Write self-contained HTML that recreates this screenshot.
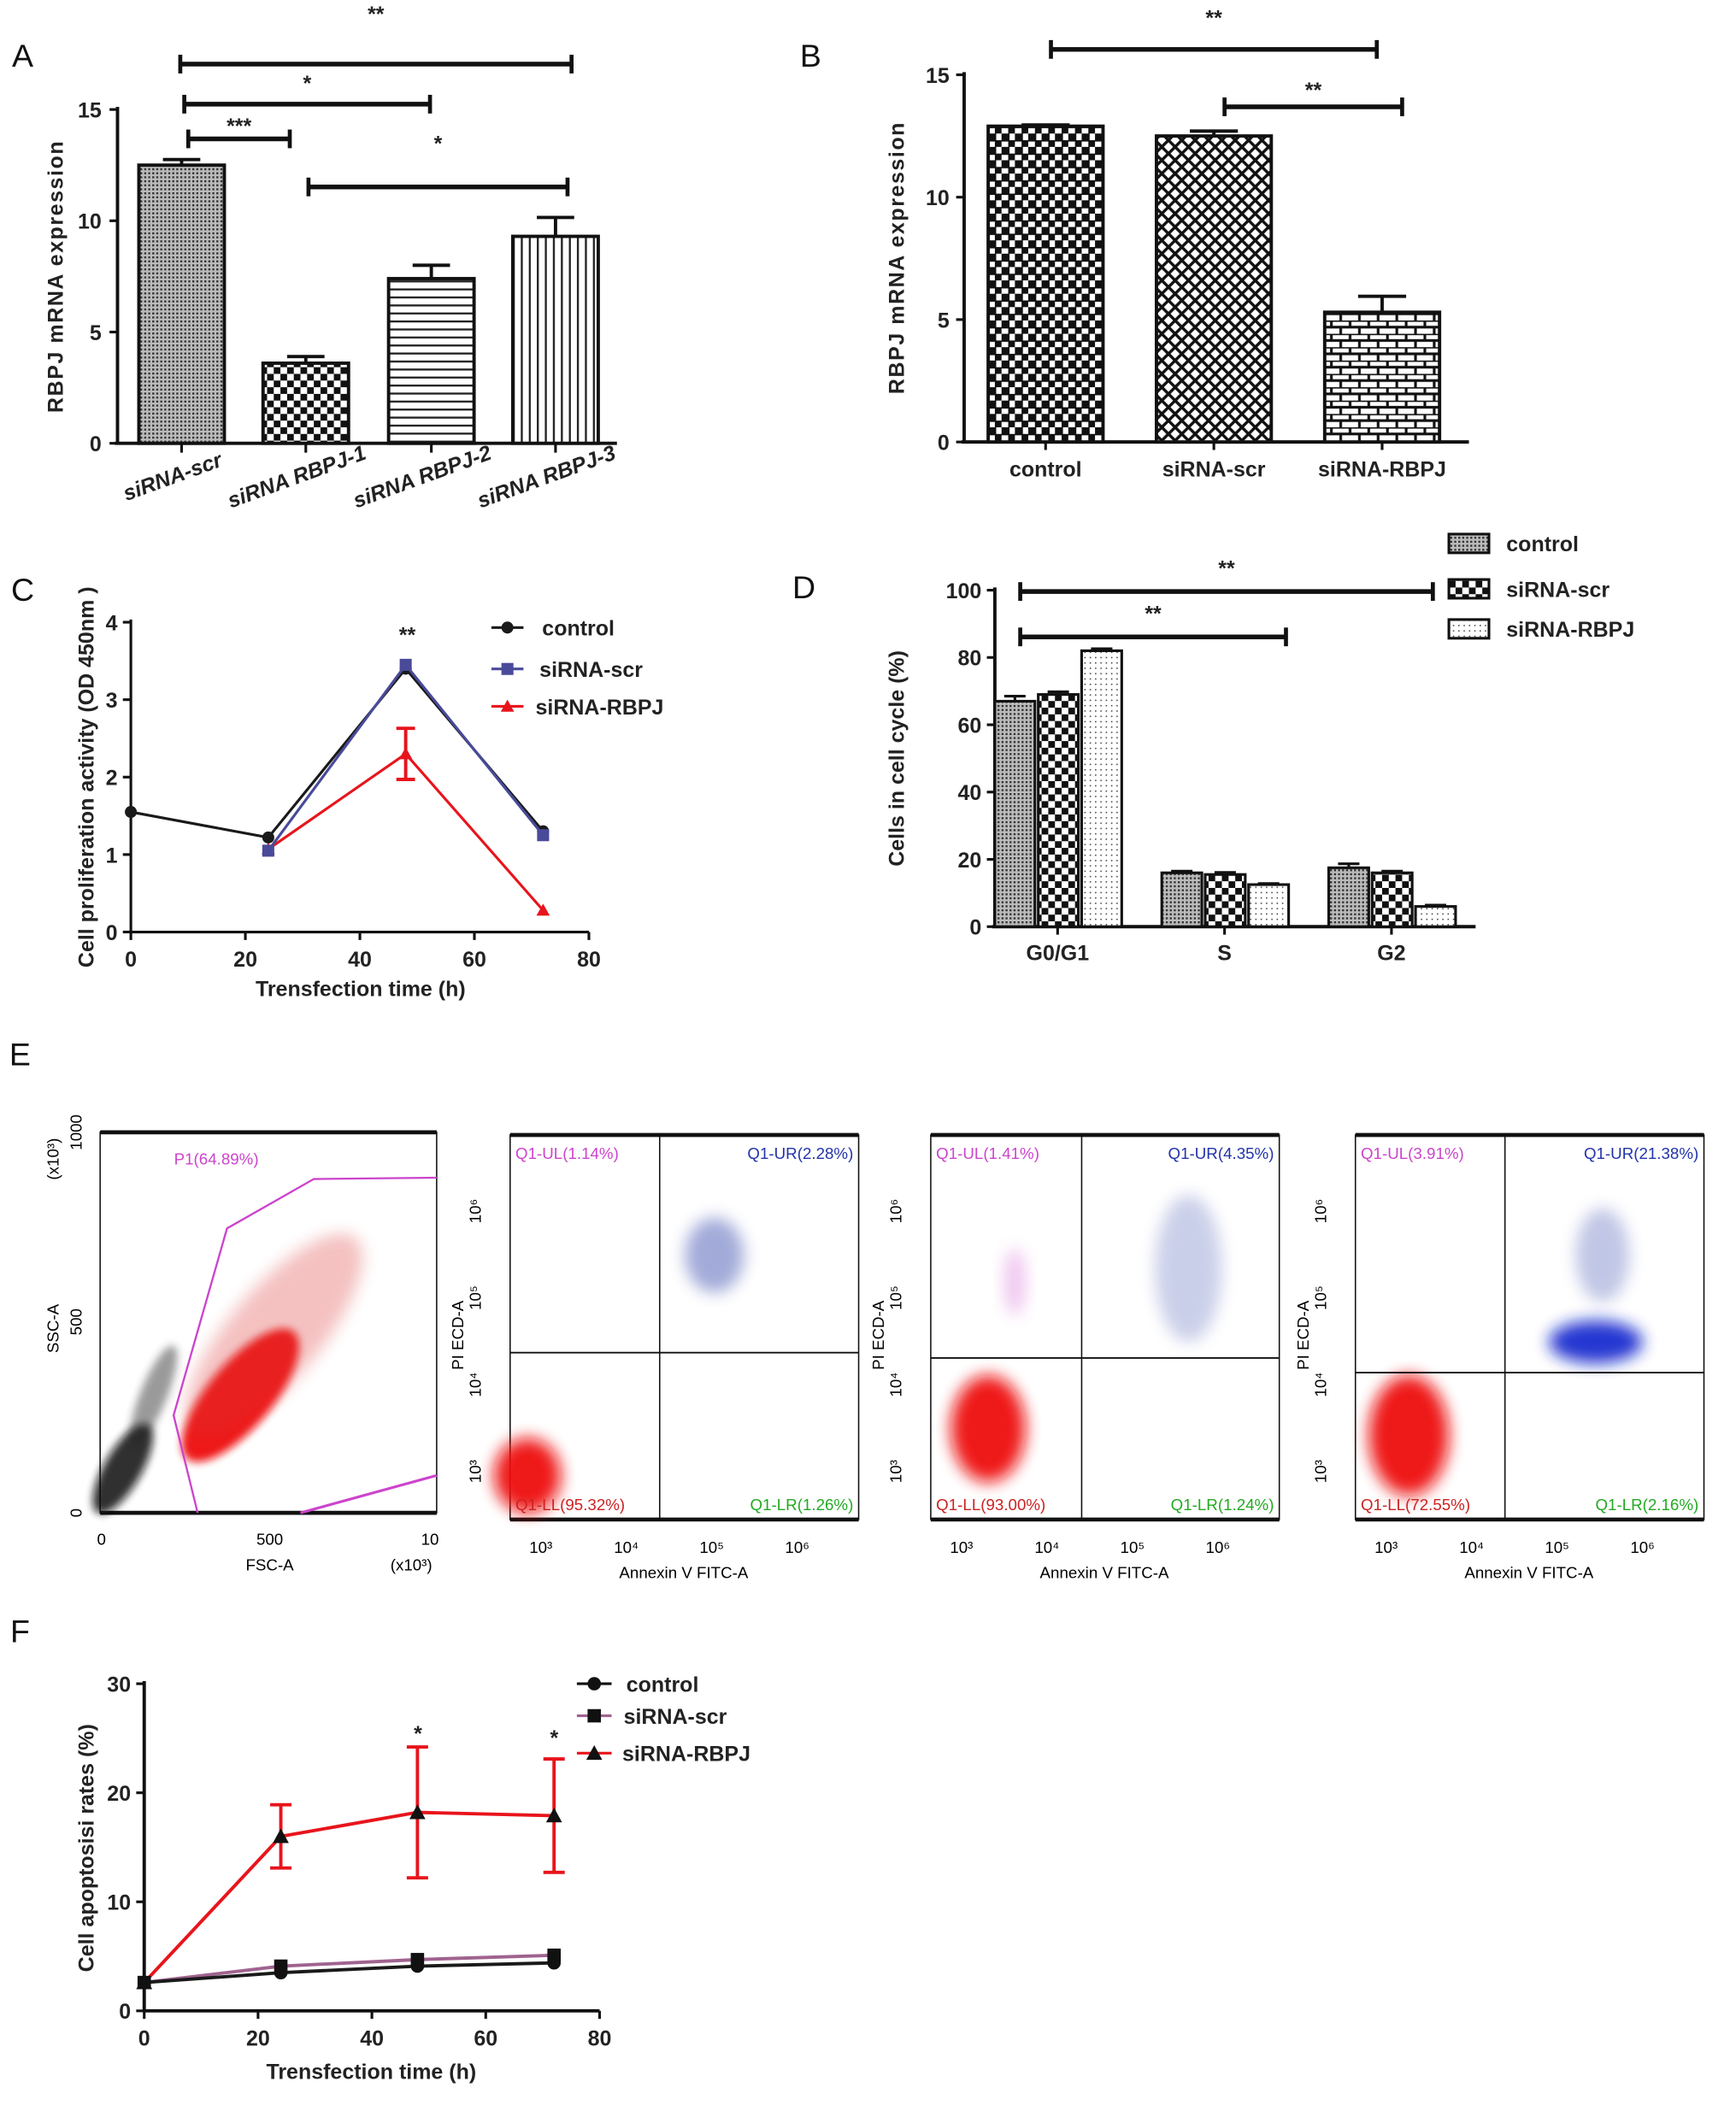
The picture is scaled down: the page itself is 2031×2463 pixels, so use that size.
<!DOCTYPE html>
<html><head><meta charset="utf-8">
<style>
html,body{margin:0;padding:0;background:#fff;}
svg{display:block;font-family:"Liberation Sans",Arial,sans-serif;}
.t{font-weight:bold;font-size:16px;fill:#222;}
.lab{font-size:24px;fill:#111;}
.f{font-size:12px;}
</style></head>
<body>
<svg id="fig" width="2031" height="2463" viewBox="0 0 1300 1576.5" xmlns="http://www.w3.org/2000/svg">
<defs>
<pattern id="pA" width="3" height="3" patternUnits="userSpaceOnUse"><rect width="3" height="3" fill="#bbb"/><rect width="1.5" height="1.5" fill="#333"/></pattern>
<pattern id="pChk" width="10" height="10" patternUnits="userSpaceOnUse"><rect width="10" height="10" fill="#fff"/><rect width="5" height="5" fill="#111"/><rect x="5" y="5" width="5" height="5" fill="#111"/></pattern>
<pattern id="pH" width="6" height="6" patternUnits="userSpaceOnUse"><rect width="6" height="6" fill="#fff"/><rect width="6" height="1.5" fill="#222"/></pattern>
<pattern id="pV" width="6" height="6" patternUnits="userSpaceOnUse"><rect width="6" height="6" fill="#fff"/><rect width="1.5" height="6" fill="#222"/></pattern>
<pattern id="pX" width="10" height="10" patternUnits="userSpaceOnUse"><rect width="10" height="10" fill="#fff"/><path d="M0 0L10 10M10 0L0 10" stroke="#111" stroke-width="2.2"/></pattern>
<pattern id="pCheck2" width="10" height="10" patternUnits="userSpaceOnUse"><rect width="10" height="10" fill="#fff"/><rect width="6" height="6" fill="#111"/><rect x="5" y="5" width="6" height="6" fill="#111"/></pattern>
<pattern id="pBrick" width="14" height="10" patternUnits="userSpaceOnUse"><rect width="14" height="10" fill="#fff"/><path d="M0 0H14M0 5H14M3 0V5M10 5V10" stroke="#111" stroke-width="2"/></pattern>
<pattern id="pDot" width="4" height="4" patternUnits="userSpaceOnUse"><rect width="4" height="4" fill="#fff"/><rect width="1" height="1" fill="#444"/></pattern>
<filter id="bl" x="-50%" y="-50%" width="200%" height="200%"><feGaussianBlur stdDeviation="6"/></filter>
<filter id="bl2" x="-50%" y="-50%" width="200%" height="200%"><feGaussianBlur stdDeviation="3"/></filter>
</defs>
<g id="root"></g>
</svg>
<script>
// ---- Panel A data ----
const aCats=["siRNA-scr","siRNA RBPJ-1","siRNA RBPJ-2","siRNA RBPJ-3"];
const aVals=[12.5,3.6,7.4,9.3];
const aErr=[0.25,0.3,0.6,0.85];
const aTicks=[0,5,10,15];
// ---- Panel B data ----
const bCats=["control","siRNA-scr","siRNA-RBPJ"];
const bVals=[12.9,12.5,5.3];
const bErr=[0.05,0.2,0.65];
const bTicks=[0,5,10,15];
// ---- Panel C data ----
const cTimes=[0,24,48,72];
const cControl=[1.55,1.22,3.4,1.3];
const cScr=[null,1.05,3.45,1.25];
const cRbpj=[null,1.07,2.3,0.28];
const cRbpjErr=[0,0,0.33,0];
const cYTicks=[0,1,2,3,4];
const cXTicks=[0,20,40,60,80];
// ---- Panel D data ----
const dGroups=["G0/G1","S","G2"];
const dControl=[67,16,17.5];
const dScr=[69,15.5,16];
const dRbpj=[82,12.5,6];
const dControlErr=[1.5,0.5,1.2];
const dScrErr=[0.8,0.6,0.5];
const dRbpjErr=[0.6,0.3,0.4];
const dTicks=[0,20,40,60,80,100];
// ---- Panel F data ----
const fTimes=[0,24,48,72];
const fControl=[2.6,3.5,4.1,4.4];
const fScr=[2.6,4.1,4.7,5.1];
const fRbpj=[2.6,16,18.2,17.9];
const fRbpjErr=[0,2.9,6,5.2];
const fYTicks=[0,10,20,30];
const fXTicks=[0,20,40,60,80];

const NS="http://www.w3.org/2000/svg";
const root=document.getElementById('root');
function el(tag,attrs,parent,txt){const e=document.createElementNS(NS,tag);for(const k in attrs)e.setAttribute(k,attrs[k]);if(txt!==undefined)e.textContent=txt;(parent||root).appendChild(e);return e;}
function grp(name){const g=el('g',{});


return g;}
function line(g,x1,y1,x2,y2,w,c){return el('line',{x1,y1,x2,y2,stroke:c||'#111','stroke-width':w||2},g);}
function text(g,x,y,s,cls,extra){const a=Object.assign({x,y,class:cls||'t','text-anchor':'middle'},extra||{});return el('text',a,g,s);}
function bracket(g,x1,x2,y,star,sy){line(g,x1,y,x2,y,3.5);line(g,x1,y-7,x1,y+7,3);line(g,x2,y-7,x2,y+7,3);text(g,(x1+x2)/2,sy,star,'t',{'font-size':'14'});}

// ===== Panel A =====
(function(){
const g=grp('panel-a');
text(g,17,50,'A','lab');
const yA=v=>332-v*(250/15);
line(g,88,80,88,333,2.5);line(g,86,332,462,332,2.5);
aTicks.forEach(t=>{line(g,82,yA(t),88,yA(t),2);const tl=text(g,76,yA(t)+6,t,'t',{'text-anchor':'end','font-weight':'normal'});

});
const fills=['url(#pA)','url(#pChk)','url(#pH)','url(#pV)'];
const cx=[136,229,323,416];
aVals.forEach((v,i)=>{
 const r=el('rect',{x:cx[i]-32,y:yA(v),width:64,height:332-yA(v),fill:fills[i],stroke:'#111','stroke-width':2.5},g);
 
 
 line(g,cx[i],yA(v),cx[i],yA(v+aErr[i]),2.5);line(g,cx[i]-14,yA(v+aErr[i]),cx[i]+14,yA(v+aErr[i]),2.5);
 line(g,cx[i],332,cx[i],339,2);
 text(g,cx[i]-5,362,aCats[i],'t',{transform:`rotate(-20 ${cx[i]-5} 362)`,'text-anchor':'middle','font-style':'italic'});
});
const yl=text(g,47,207,'RBPJ mRNA expression','t',{transform:'rotate(-90 47 207)','letter-spacing':'1'});


bracket(g,135,428,48,'**',16);
bracket(g,138,322,78,'*',68);
bracket(g,141,217,104,'***',100);
bracket(g,231,425,140,'*',113);
})();

// ===== Panel B =====
(function(){
const g=grp('panel-b');
text(g,607,50,'B','lab');
const yB=v=>331-v*(275/15);
line(g,722,54,722,332,2.5);line(g,720,331,1100,331,2.5);
bTicks.forEach(t=>{line(g,716,yB(t),722,yB(t),2);text(g,711,yB(t)+6,t,'t',{'text-anchor':'end','font-weight':'normal'});});
const fills=['url(#pCheck2)','url(#pX)','url(#pBrick)'];
const cx=[783,909,1035];
bVals.forEach((v,i)=>{
 const r=el('rect',{x:cx[i]-43,y:yB(v),width:86,height:331-yB(v),fill:fills[i],stroke:'#111','stroke-width':2.5},g);
 
 
 line(g,cx[i],yB(v),cx[i],yB(v+bErr[i]),2.5);line(g,cx[i]-18,yB(v+bErr[i]),cx[i]+18,yB(v+bErr[i]),2.5);
 line(g,cx[i],331,cx[i],337,2);
 text(g,cx[i],357,bCats[i]);
});
text(g,677,193,'RBPJ mRNA expression','t',{transform:'rotate(-90 677 193)','letter-spacing':'1'});
bracket(g,787,1031,37,'**',19);
bracket(g,917,1050,80,'**',73);
})();

// ===== Panel C =====
(function(){
const g=grp('panel-c');
text(g,17,450,'C','lab');
const xC=v=>98+v*(343/80), yC=v=>698-v*(232/4);
line(g,98,464,98,699,2);line(g,97,698,441,698,2);
cYTicks.forEach(t=>{line(g,92,yC(t),98,yC(t),2);text(g,88,yC(t)+6,t,'t',{'text-anchor':'end','font-weight':'normal'});});
cXTicks.forEach(t=>{line(g,xC(t),698,xC(t),704,2);text(g,xC(t),724,t,'t',{'font-weight':'normal'});});
text(g,270,746,'Trensfection time (h)');
text(g,70,582,'Cell proliferation activity (OD 450nm )','t',{transform:'rotate(-90 70 582)','font-size':'15'});
function series(arr,col,marker,name,err){
 const s=grp('series-'+name);g.appendChild(s);
 let pts=[];arr.forEach((v,i)=>{if(v!==null)pts.push([xC(cTimes[i]),yC(v),i]);});
 el('polyline',{points:pts.map(p=>p[0]+','+p[1]).join(' '),fill:'none',stroke:col,'stroke-width':2},s);
 pts.forEach(p=>{
  if(err&&err[p[2]]){const e=err[p[2]],v=arr[p[2]];line(s,p[0],yC(v-e),p[0],yC(v+e),2.5,col);line(s,p[0]-7,yC(v+e),p[0]+7,yC(v+e),2.5,col);line(s,p[0]-7,yC(v-e),p[0]+7,yC(v-e),2.5,col);}
  if(marker==='c')el('circle',{cx:p[0],cy:p[1],r:4.5,fill:col},s);
  else if(marker==='s')el('rect',{x:p[0]-4.5,y:p[1]-4.5,width:9,height:9,fill:col},s);
  else el('path',{d:`M${p[0]} ${p[1]-5}L${p[0]+5} ${p[1]+4}L${p[0]-5} ${p[1]+4}Z`,fill:col},s);
 });
}
series(cRbpj,'#e8141c','t','sirna-rbpj',cRbpjErr);
series(cControl,'#1a1a1a','c','control');
series(cScr,'#4a4a9a','s','sirna-scr');
text(g,305,481,'**','t',{'font-size':'13'});
const lg=grp('legend-c');g.appendChild(lg);
line(lg,368,470,392,470,2,'#1a1a1a');el('circle',{cx:380,cy:470,r:4.5,fill:'#1a1a1a'},lg);text(lg,406,476,'control','t',{'text-anchor':'start'});
line(lg,368,501,392,501,2,'#4a4a9a');el('rect',{x:375.5,y:496.5,width:9,height:9,fill:'#4a4a9a'},lg);text(lg,404,507,'siRNA-scr','t',{'text-anchor':'start'});
line(lg,368,529,392,529,2,'#e8141c');el('path',{d:'M380 524L385 533L375 533Z',fill:'#e8141c'},lg);text(lg,401,535,'siRNA-RBPJ','t',{'text-anchor':'start'});
})();

// ===== Panel D =====
(function(){
const g=grp('panel-d');
text(g,602,448,'D','lab');
const yD=v=>694-v*(252/100);
line(g,745,440,745,695,2.5);line(g,743,694,1105,694,2.5);
dTicks.forEach(t=>{line(g,739,yD(t),745,yD(t),2);text(g,735,yD(t)+6,t,'t',{'text-anchor':'end','font-weight':'normal'});});
const fills=['url(#pA)','url(#pChk)','url(#pDot)'];
const series=[dControl,dScr,dRbpj], errs=[dControlErr,dScrErr,dRbpjErr];
const gx=[792,917,1042];
dGroups.forEach((name,gi)=>{
 series.forEach((arr,si)=>{
  const x=gx[gi]-47+si*32.5, v=arr[gi];
  const r=el('rect',{x,y:yD(v),width:30,height:694-yD(v),fill:fills[si],stroke:'#111','stroke-width':2},g);
  
  
  const cx=x+15,e=errs[si][gi];line(g,cx,yD(v),cx,yD(v+e),2);line(g,cx-8,yD(v+e),cx+8,yD(v+e),2);
 });
 line(g,gx[gi],694,gx[gi],700,2);
 text(g,gx[gi],719,name);
});
text(g,677,568,'Cells in cell cycle (%)','t',{transform:'rotate(-90 677 568)'});
bracket(g,764,1073,443,'**',431);
bracket(g,764,963,477,'**',465);
const names=['control','siRNA-scr','siRNA-RBPJ'];
names.forEach((n,i)=>{const y=[407,441,471][i];
 const lr=el('rect',{x:1085,y:y-7,width:30,height:14,fill:fills[i],stroke:'#111','stroke-width':2},g);
 
 
 text(g,1128,y+6,n,'t',{'text-anchor':'start'});});
})();

// ===== Panel E (flow cytometry) =====
(function(){
const g=grp('panel-e');
text(g,15,798,'E','lab');
const p1=grp('scatter-fsc-ssc');g.appendChild(p1);
el('rect',{x:75,y:848,width:252,height:285,fill:'#fff',stroke:'#111','stroke-width':1},p1);
line(p1,75,848,327,848,3);line(p1,75,1133,327,1133,3);
el('ellipse',{cx:92,cy:1100,rx:14,ry:38,fill:'#111',opacity:0.85,filter:'url(#bl2)',transform:'rotate(30 92 1100)'},p1);
el('ellipse',{cx:115,cy:1045,rx:10,ry:40,fill:'#222',opacity:0.45,filter:'url(#bl2)',transform:'rotate(22 115 1045)'},p1);
el('ellipse',{cx:180,cy:1045,rx:24,ry:62,fill:'#ee1111',opacity:0.95,filter:'url(#bl2)',transform:'rotate(40 180 1045)'},p1);
el('ellipse',{cx:205,cy:1000,rx:34,ry:95,fill:'#dd3333',opacity:0.3,filter:'url(#bl)',transform:'rotate(40 205 1000)'},p1);
el('polyline',{points:'148,1133 130,1060 170,920 235,883 327,882',fill:'none',stroke:'#cc44cc','stroke-width':1.5},p1);
line(p1,225,1133,327,1105,2,'#cc44cc');
text(p1,162,872,'P1(64.89%)','f',{fill:'#cc44cc'});
text(p1,61,1133,'0','f',{transform:'rotate(-90 61 1133)'});text(p1,61,990,'500','f',{transform:'rotate(-90 61 990)'});text(p1,61,848,'1000','f',{transform:'rotate(-90 61 848)'});
text(p1,44,868,'(x10³)','f',{transform:'rotate(-90 44 868)'});
text(p1,44,995,'SSC-A','f',{transform:'rotate(-90 44 995)','text-anchor':'middle'});
text(p1,76,1157,'0','f');text(p1,202,1157,'500','f');text(p1,322,1157,'10','f');
text(p1,202,1176,'FSC-A','f');text(p1,308,1176,'(x10³)','f');
const quads=[
 {x:382,v:494,h:1013,ul:'1.14%',ur:'2.28%',ll:'95.32%',lr:'1.26%',clouds:[[395,1105,25,28,'#ee1111',0.95],[535,940,22,28,'#3344aa',0.45]]},
 {x:697,v:810,h:1017,ul:'1.41%',ur:'4.35%',ll:'93.00%',lr:'1.24%',clouds:[[740,1070,28,40,'#ee1111',0.95],[890,950,25,55,'#3344aa',0.25],[760,960,8,25,'#cc44cc',0.3]]},
 {x:1015,v:1127,h:1028,ul:'3.91%',ur:'21.38%',ll:'72.55%',lr:'2.16%',clouds:[[1055,1075,30,45,'#ee1111',0.95],[1195,1005,35,16,'#1122cc',0.9],[1200,940,20,35,'#3344aa',0.3]]}
];
quads.forEach((q,i)=>{
 const qg=grp('scatter-annexin-'+(i+1));g.appendChild(qg);
 el('rect',{x:q.x,y:850,width:261,height:288,fill:'#fff',stroke:'#111','stroke-width':1},qg);
 line(qg,q.x,850,q.x+261,850,3);line(qg,q.x,1138,q.x+261,1138,3);
 q.clouds.forEach(c=>el('ellipse',{cx:c[0],cy:c[1],rx:c[2],ry:c[3],fill:c[4],opacity:c[5],filter:'url(#bl)'},qg));
 line(qg,q.v,850,q.v,1138,1);line(qg,q.x,q.h,q.x+261,q.h,1.2);
 text(qg,q.x+4,868,'Q1-UL('+q.ul+')','f',{fill:'#cc44cc','text-anchor':'start'});
 text(qg,q.x+257,868,'Q1-UR('+q.ur+')','f',{fill:'#2233aa','text-anchor':'end'});
 text(qg,q.x+4,1131,'Q1-LL('+q.ll+')','f',{fill:'#cc2222','text-anchor':'start'});
 text(qg,q.x+257,1131,'Q1-LR('+q.lr+')','f',{fill:'#22aa22','text-anchor':'end'});
 ['10³','10⁴','10⁵','10⁶'].forEach((s,k)=>{text(qg,q.x+23+k*64,1163,s,'f');text(qg,q.x-22,1102-k*65,s,'f',{transform:`rotate(-90 ${q.x-22} ${1102-k*65})`});});
 text(qg,q.x+130,1182,'Annexin V FITC-A','f');
 text(qg,q.x-35,1000,'PI ECD-A','f',{transform:`rotate(-90 ${q.x-35} 1000)`});
});
})();

// ===== Panel F =====
(function(){
const g=grp('panel-f');
text(g,15,1230,'F','lab');
const xF=v=>108+v*(341/80), yF=v=>1506-v*(245/30);
line(g,108,1259,108,1507,2.5);line(g,107,1506,449,1506,2.5);
fYTicks.forEach(t=>{line(g,102,yF(t),108,yF(t),2);text(g,98,yF(t)+6,t,'t',{'text-anchor':'end','font-weight':'normal'});});
fXTicks.forEach(t=>{line(g,xF(t),1506,xF(t),1512,2);text(g,xF(t),1532,t,'t',{'font-weight':'normal'});});
text(g,278,1557,'Trensfection time (h)');
text(g,70,1384,'Cell apoptosisi rates (%)','t',{transform:'rotate(-90 70 1384)'});
function series(arr,col,marker,name,err){
 const s=grp('series-f-'+name);g.appendChild(s);
 const pts=arr.map((v,i)=>[xF(fTimes[i]),yF(v),i]);
 el('polyline',{points:pts.map(p=>p[0]+','+p[1]).join(' '),fill:'none',stroke:col,'stroke-width':2.5},s);
 pts.forEach(p=>{
  if(err&&err[p[2]]){const e=err[p[2]],v=arr[p[2]];line(s,p[0],yF(v-e),p[0],yF(v+e),2.5,col);line(s,p[0]-8,yF(v+e),p[0]+8,yF(v+e),2.5,col);line(s,p[0]-8,yF(v-e),p[0]+8,yF(v-e),2.5,col);}
  if(marker==='c')el('circle',{cx:p[0],cy:p[1],r:5,fill:'#111'},s);
  else if(marker==='s')el('rect',{x:p[0]-5,y:p[1]-5,width:10,height:10,fill:'#111'},s);
  else el('path',{d:`M${p[0]} ${p[1]-6}L${p[0]+6} ${p[1]+5}L${p[0]-6} ${p[1]+5}Z`,fill:'#111'},s);
 });
}
series(fRbpj,'#e8141c','t','sirna-rbpj',fRbpjErr);
series(fScr,'#a0638f','s','sirna-scr');
series(fControl,'#1a1a1a','c','control');
text(g,313,1304,'*','t',{'font-size':'14'});text(g,415,1307,'*','t',{'font-size':'14'});
const lg=grp('legend-f');g.appendChild(lg);
line(lg,432,1261,458,1261,2,'#111');el('circle',{cx:445,cy:1261,r:5,fill:'#111'},lg);text(lg,469,1267,'control','t',{'text-anchor':'start'});
line(lg,432,1285,458,1285,2,'#a0638f');el('rect',{x:440,y:1280,width:10,height:10,fill:'#111'},lg);text(lg,467,1291,'siRNA-scr','t',{'text-anchor':'start',fill:'#a0638f'});
line(lg,432,1313,458,1313,2,'#e8141c');el('path',{d:'M445 1307L451 1318L439 1318Z',fill:'#111'},lg);text(lg,466,1319,'siRNA-RBPJ','t',{'text-anchor':'start',fill:'#e8141c'});
})();
</script>
</body></html>
